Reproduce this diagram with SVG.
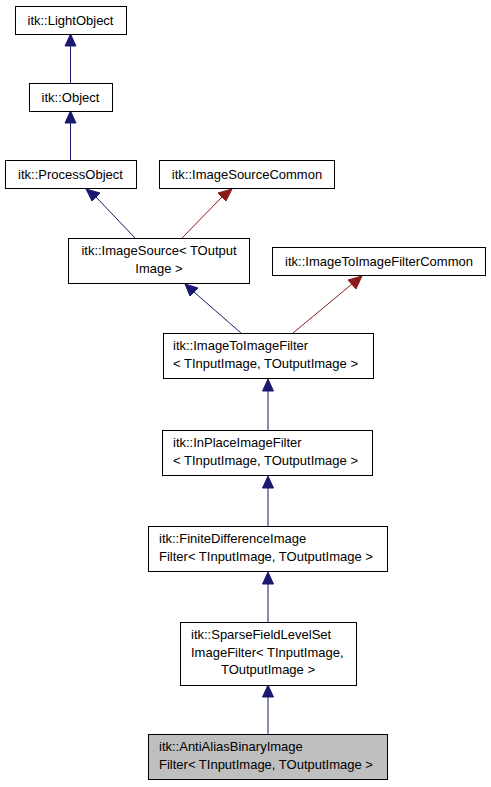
<svg xmlns="http://www.w3.org/2000/svg" width="491" height="787" viewBox="0 0 491 787">
<style>
.n rect{fill:#ffffff;stroke:#000000;stroke-width:1}
.n.h rect{fill:#bfbfbf}
text{font-family:"Liberation Sans",Arial,sans-serif;font-size:13px;fill:#000000}
.c{text-anchor:middle}
.b{stroke:#191970;stroke-width:1;fill:none}
.r{stroke:#8b1a1a;stroke-width:1;fill:none}
.ab{fill:#191970;stroke:#191970}
.ar{fill:#8b1a1a;stroke:#8b1a1a}
</style>
<rect width="491" height="787" fill="#ffffff"/>
<g id="edges">
<line class="b" x1="70.5" y1="83" x2="70.5" y2="46"/>
<polygon class="ab" points="70.5,34 65,46 76,46"/>
<line class="b" x1="70.5" y1="160" x2="70.5" y2="123"/>
<polygon class="ab" points="70.5,111 65,123 76,123"/>
<line class="b" x1="135" y1="238" x2="96" y2="197"/>
<polygon class="ab" points="86,189 92,201 100,193"/>
<line class="r" x1="182" y1="238" x2="222" y2="197"/>
<polygon class="ar" points="232,189 218,193 226,201"/>
<line class="b" x1="241" y1="333" x2="194" y2="292"/>
<polygon class="ab" points="185,284 190,296 198,288"/>
<line class="r" x1="293" y1="333" x2="352" y2="284"/>
<polygon class="ar" points="362,276 348,280 356,289"/>
<line class="b" x1="268" y1="431" x2="268" y2="391"/>
<polygon class="ab" points="268,379 262.5,391 273.5,391"/>
<line class="b" x1="268" y1="526" x2="268" y2="488"/>
<polygon class="ab" points="268,476 262.5,488 273.5,488"/>
<line class="b" x1="268" y1="622" x2="268" y2="584"/>
<polygon class="ab" points="268,572 262.5,584 273.5,584"/>
<line class="b" x1="268" y1="734" x2="268" y2="697"/>
<polygon class="ab" points="268,685 262.5,697 273.5,697"/>
</g>
<g id="lightobject" class="n"><rect x="15.5" y="6.5" width="111" height="28"/><text class="c" x="70.5" y="25">itk::LightObject</text></g>
<g id="object" class="n"><rect x="29.5" y="83.5" width="83" height="28"/><text class="c" x="70.5" y="102">itk::Object</text></g>
<g id="processobject" class="n"><rect x="5.5" y="160.5" width="131" height="28"/><text class="c" x="70.5" y="179">itk::ProcessObject</text></g>
<g id="imagesourcecommon" class="n"><rect x="159.5" y="160.5" width="175" height="28"/><text class="c" x="247" y="179">itk::ImageSourceCommon</text></g>
<g id="imagesource" class="n"><rect x="68.5" y="238.5" width="181" height="45"/><text class="c" x="159" y="255">itk::ImageSource&lt; TOutput</text><text class="c" x="159" y="272.5">Image &gt;</text></g>
<g id="imagetoimagefiltercommon" class="n"><rect x="272.5" y="247.5" width="213" height="28"/><text class="c" x="379" y="266">itk::ImageToImageFilterCommon</text></g>
<g id="imagetoimagefilter" class="n"><rect x="163.5" y="333.5" width="210" height="45"/><text x="173" y="350">itk::ImageToImageFilter</text><text x="173" y="367.5">&lt; TInputImage, TOutputImage &gt;</text></g>
<g id="inplaceimagefilter" class="n"><rect x="162.5" y="430.5" width="210" height="45"/><text x="173" y="447">itk::InPlaceImageFilter</text><text x="173" y="464.5">&lt; TInputImage, TOutputImage &gt;</text></g>
<g id="finitedifferenceimagefilter" class="n"><rect x="148.5" y="526.5" width="239" height="45"/><text x="159" y="543">itk::FiniteDifferenceImage</text><text x="159" y="560.5">Filter&lt; TInputImage, TOutputImage &gt;</text></g>
<g id="sparsefieldlevelsetimagefilter" class="n"><rect x="180.5" y="622.5" width="176" height="63"/><text x="191" y="639">itk::SparseFieldLevelSet</text><text x="191" y="656.5">ImageFilter&lt; TInputImage,</text><text class="c" x="268" y="674">TOutputImage &gt;</text></g>
<g id="antialiasbinaryimagefilter" class="n h"><rect x="148.5" y="734.5" width="239" height="45"/><text x="159" y="751">itk::AntiAliasBinaryImage</text><text x="159" y="768.5">Filter&lt; TInputImage, TOutputImage &gt;</text></g>
</svg>
